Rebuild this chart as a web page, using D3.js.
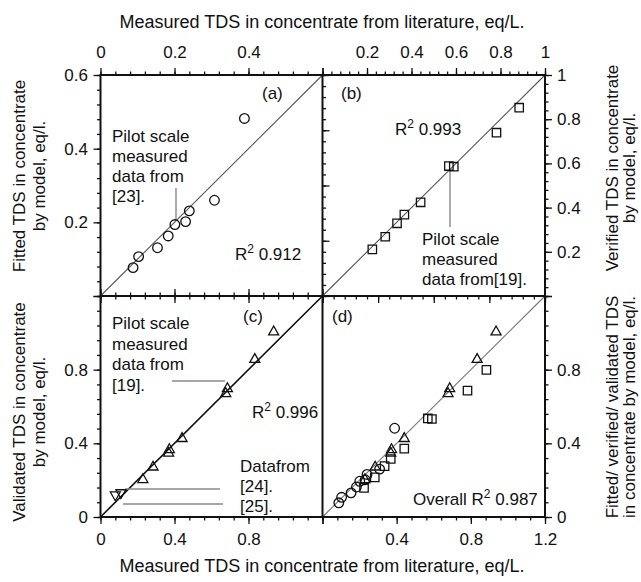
<!DOCTYPE html>
<html><head><meta charset="utf-8">
<script src="https://cdn.jsdelivr.net/npm/d3@7"></script>
<style>
html,body{margin:0;padding:0;background:#fff;}
svg text{font-family:"Liberation Sans",Arial,Helvetica,sans-serif;fill:#111;}
</style></head>
<body><svg id="c" width="641" height="582"></svg>
<script>
// ---- data ----
const circlesA = [[0.088,0.077],[0.103,0.107],[0.154,0.131],[0.183,0.163],[0.201,0.194],[0.230,0.202],[0.240,0.231],[0.308,0.260],[0.389,0.482]];
const squaresB = [[0.224,0.211],[0.282,0.268],[0.335,0.329],[0.368,0.368],[0.441,0.424],[0.568,0.588],[0.590,0.585],[0.782,0.739],[0.884,0.852]];
const trianglesUpC = [[0.229,0.205],[0.284,0.273],[0.368,0.349],[0.372,0.368],[0.441,0.428],[0.677,0.672],[0.686,0.699],[0.834,0.857],[0.936,1.007]];
const trianglesDownC = [[0.080,0.118],[0.110,0.130]];
const squaresD = [[0.224,0.158],[0.282,0.215],[0.335,0.276],[0.368,0.315],[0.441,0.371],[0.568,0.535],[0.590,0.532],[0.782,0.686],[0.884,0.799]];

const ticksA = [0,0.2,0.4,0.6];
const ticksB = [0,0.2,0.4,0.6,0.8,1];
const ticksB2 = [0,0.25,0.5,0.75,1];
const ticksC = [0,0.4,0.8,1.2];
const labelsATop = [0,0.2,0.4];
const labelsALeft = [0.2,0.4,0.6];
const labelsB = [0.2,0.4,0.6,0.8,1];
const labelsCLeft = [0,0.4,0.8];
const labelsCBottom = [0,0.4,0.8];
const labelsDBottom = [0.4,0.8,1.2];
const labelsDRight = [0,0.4,0.8];

const svg = d3.select("#c");
const L=100.5, M=322.5, R=545, T=75, H=296, B=517;

const xa=d3.scaleLinear([0,0.6],[L,M]), ya=d3.scaleLinear([0,0.6],[H,T]);
const xb=d3.scaleLinear([0,1],[M,R]), yb=d3.scaleLinear([0,1],[H,T]);
const xc=d3.scaleLinear([0,1.2],[L,M]), yc=d3.scaleLinear([0,1.2],[B,H]);
const xd=d3.scaleLinear([0,1.2],[M,R]), yd=d3.scaleLinear([0,1.2],[B,H]);

const fmt = d => String(+d.toFixed(2));
function minors(max, step){ const n=Math.round(max/step); return d3.range(n+1).map(i=>+(i*step).toFixed(4)); }

function axis(gen, scale, tx, ty, majors, labels, minorStep, pad){
  const g1 = svg.append("g").attr("transform",`translate(${tx},${ty})`)
    .call(gen(scale).tickValues(minors(scale.domain()[1],minorStep)).tickSize(3.5).tickFormat(""));
  const g2 = svg.append("g").attr("transform",`translate(${tx},${ty})`)
    .call(gen(scale).tickValues(majors).tickSize(7).tickPadding(pad)
      .tickFormat(d => labels.some(v=>Math.abs(v-d)<1e-9) ? fmt(d) : ""));
  [g1,g2].forEach(g=>{
    g.select(".domain").remove();
    g.selectAll("line").attr("stroke","#111").attr("stroke-width",1.3);
    g.selectAll("text").attr("font-size",17).attr("fill","#111");
  });
}

// ticks
axis(d3.axisTop, xa, 0, T, ticksA, labelsATop, 0.04, 10);
axis(d3.axisLeft, ya, L, 0, ticksA, labelsALeft, 0.04, 5.5);
axis(d3.axisBottom, xa, 0, H, ticksA, [], 0.04, 5);
axis(d3.axisTop, xb, 0, T, ticksB, labelsB, 0.04, 10);
axis(d3.axisRight, yb, R, 0, ticksB, labelsB, 0.04, 5);
axis(d3.axisRight, yb, M, 0, ticksB2, [], 0.05, 5);
axis(d3.axisBottom, xb, 0, H, ticksB2, [], 0.05, 5);
axis(d3.axisLeft, yc, L, 0, ticksC, labelsCLeft, 0.08, 5.5);
axis(d3.axisBottom, xc, 0, B, ticksC, labelsCBottom, 0.08, 9);
axis(d3.axisTop, xc, 0, H, ticksC, [], 0.08, 5);
axis(d3.axisBottom, xd, 0, B, ticksC, labelsDBottom, 0.08, 9);
axis(d3.axisRight, yd, R, 0, ticksC, labelsDRight, 0.08, 5);

// diagonal lines
function diag(xs, ys, max, color, w){
  svg.append("line").attr("x1",xs(0)).attr("y1",ys(0)).attr("x2",xs(max)).attr("y2",ys(max))
    .attr("stroke",color).attr("stroke-width",w);
}
diag(xa,ya,0.6,"#555",1.1);
diag(xb,yb,1,"#555",1.1);
diag(xc,yc,1.2,"#111",1.6);
diag(xd,yd,1.2,"#777",1.1);

// frame
svg.append("rect").attr("x",L).attr("y",T).attr("width",R-L).attr("height",B-T)
  .attr("fill","none").attr("stroke","#111").attr("stroke-width",2);
svg.append("line").attr("x1",M).attr("x2",M).attr("y1",T).attr("y2",B).attr("stroke","#111").attr("stroke-width",2);
svg.append("line").attr("x1",L).attr("x2",R).attr("y1",H).attr("y2",H).attr("stroke","#111").attr("stroke-width",2);

// leader lines
function lead(x1,y1,x2,y2){ svg.append("line").attr("x1",x1).attr("y1",y1).attr("x2",x2).attr("y2",y2).attr("stroke","#888").attr("stroke-width",1.4); }
lead(176,188,176,221);
lead(450,170,450,227);
lead(172,381,225,381);
lead(125,489,220,489);
lead(123,504,223,504);

// markers
const triUp = "M0,-5.5L5,3.3L-5,3.3Z";
const triDown = "M0,5.5L5,-3.3L-5,-3.3Z";
const sq = "M-4.2,-4.2H4.2V4.2H-4.2Z";
function circles(data, xs, ys){
  svg.append("g").selectAll("circle").data(data).join("circle")
    .attr("cx",d=>xs(d[0])).attr("cy",d=>ys(d[1])).attr("r",4.8)
    .attr("fill","none").attr("stroke","#111").attr("stroke-width",1.3);
}
function paths(data, xs, ys, p){
  svg.append("g").selectAll("path").data(data).join("path")
    .attr("transform",d=>`translate(${xs(d[0])},${ys(d[1])})`).attr("d",p)
    .attr("fill","none").attr("stroke","#111").attr("stroke-width",1.3);
}
circles(circlesA, xa, ya);
paths(squaresB, xb, yb, sq);
paths(trianglesUpC, xc, yc, triUp);
paths(trianglesDownC, xc, yc, triDown);
circles(circlesA, xd, yd);
paths(squaresD, xd, yd, sq);
paths(trianglesUpC, xd, yd, triUp);

// texts
function txt(x,y,s,size=17,anchor="start"){
  return svg.append("text").attr("x",x).attr("y",y).attr("font-size",size).attr("text-anchor",anchor).text(s);
}
function r2(x,y,pre,val){
  const t = svg.append("text").attr("x",x).attr("y",y).attr("font-size",17);
  t.append("tspan").text(pre+"R");
  t.append("tspan").attr("dy",-7).attr("font-size",12).text("2");
  t.append("tspan").attr("dy",7).text(" "+val);
}
txt(262,99,"(a)");
txt(341,99,"(b)");
txt(243,322,"(c)");
txt(332,322,"(d)");
["Pilot scale","measured","data from","[23]."].forEach((s,i)=>txt(112,141.5+i*20,s));
["Pilot scale","measured","data from[19]."].forEach((s,i)=>txt(422,245+i*20,s));
["Pilot scale","measured","data from","[19]."].forEach((s,i)=>txt(112,329+i*20.7,s));
txt(240,471.5,"Datafrom"); txt(240,491.5,"[24]."); txt(240,511.5,"[25].");
r2(235,260,"","0.912");
r2(395,135,"","0.993");
r2(252,418,"","0.996");
r2(413,505,"Overall ","0.987");

txt(322,28,"Measured TDS in concentrate from literature, eq/L.",18,"middle");
txt(322,572,"Measured TDS in concentrate from literature, eq/L.",18,"middle");

function vlab(x,y,s){
  svg.append("text").attr("transform",`translate(${x},${y}) rotate(-90)`)
    .attr("font-size",17).attr("text-anchor","middle").text(s);
}
vlab(25,176,"Fitted TDS in concentrate");
vlab(45,176,"by model, eq/l.");
vlab(25,412,"Validated TDS in concentrate");
vlab(45,412,"by model, eq/l.");
vlab(618,168,"Verified TDS in concentrate");
vlab(635,168,"by model, eq/l.");
vlab(618,407,"Fitted/ verified/ validated TDS");
vlab(635,407,"in concentrate by model, eq/l.");
</script></body></html>
